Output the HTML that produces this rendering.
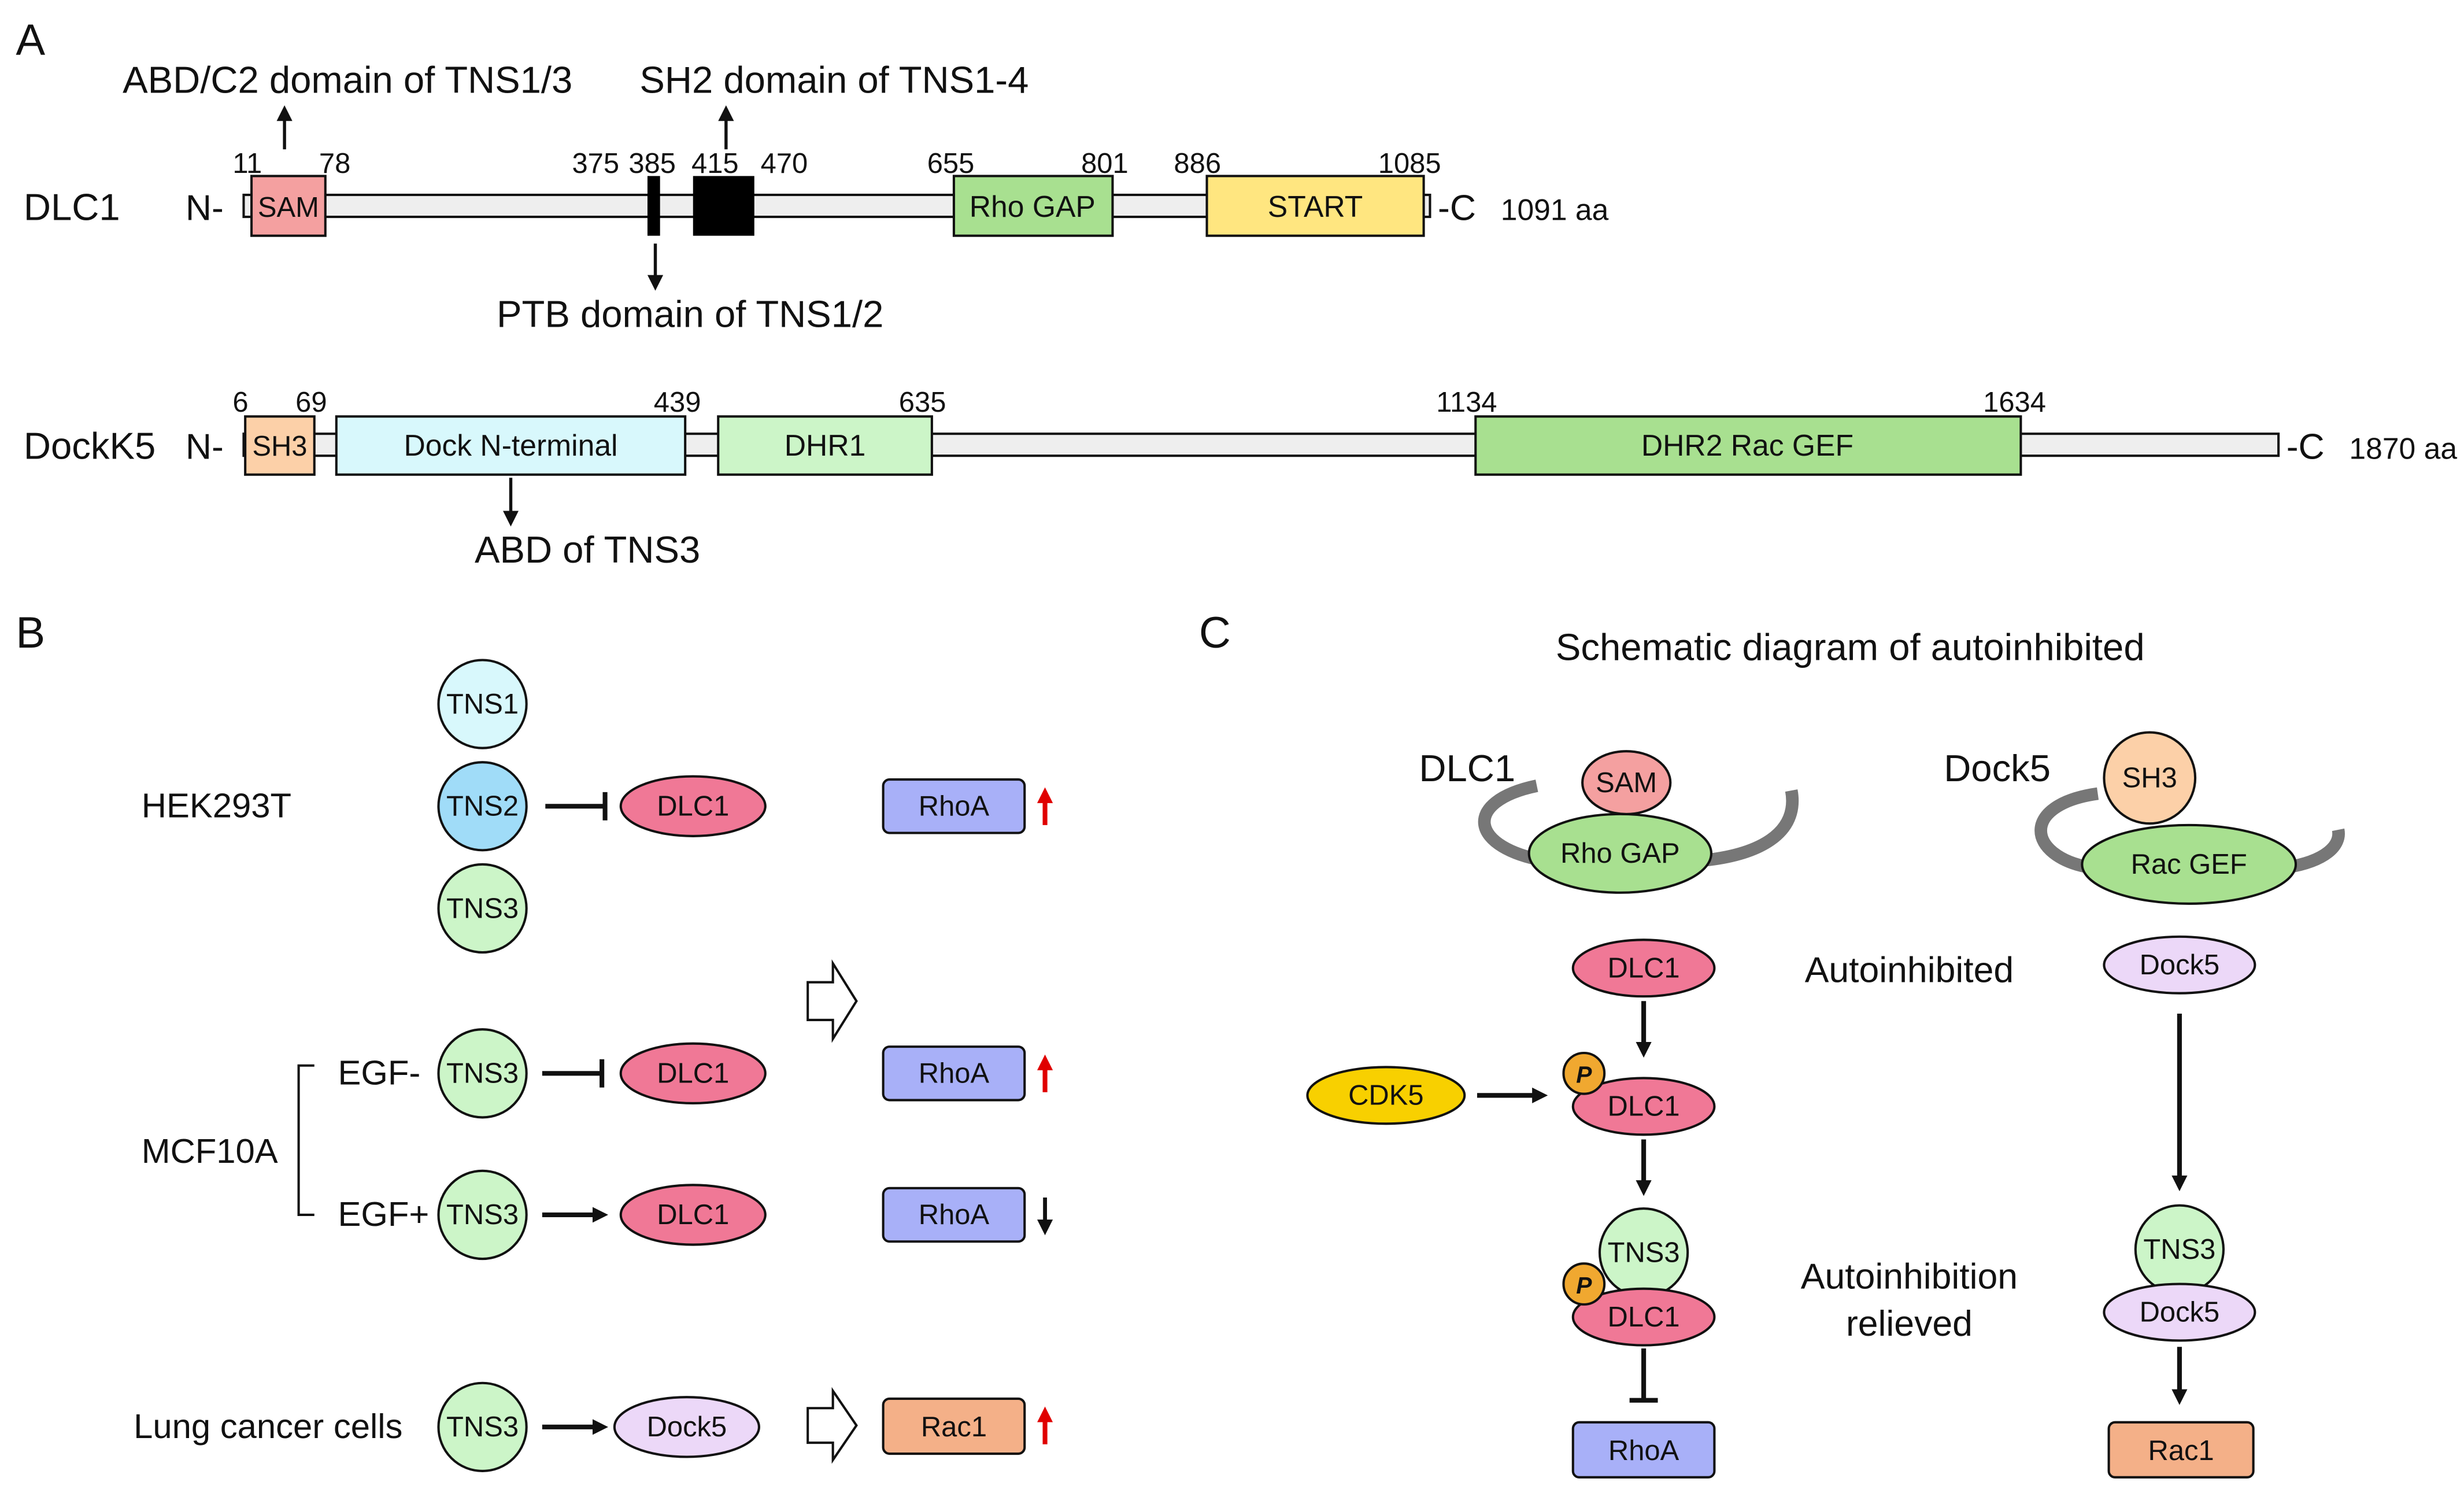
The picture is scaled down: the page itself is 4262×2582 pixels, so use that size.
<!DOCTYPE html>
<html><head><meta charset="utf-8"><style>
html,body{margin:0;padding:0;background:#fff;}
svg{display:block;}
text{font-family:"Liberation Sans",Arial,sans-serif;fill:#111;}
</style></head><body>
<svg width="4262" height="2582" viewBox="0 0 1568 950" xmlns="http://www.w3.org/2000/svg">
<defs>
<marker id="ah" markerWidth="10" markerHeight="10" refX="5" refY="5" orient="auto" markerUnits="userSpaceOnUse" viewBox="0 0 10 10">
<path d="M0,0 L10,5 L0,10 z" fill="#111"/></marker>
<marker id="ahr" markerWidth="10" markerHeight="10" refX="5" refY="5" orient="auto" markerUnits="userSpaceOnUse" viewBox="0 0 10 10">
<path d="M0,0 L10,5 L0,10 z" fill="#e00000"/></marker>
</defs>
<text x="10" y="35" font-size="28">A</text>
<text x="78" y="59" font-size="24">ABD/C2 domain of TNS1/3</text>
<text x="407" y="59" font-size="24">SH2 domain of TNS1-4</text>
<line x1="181" y1="95" x2="181" y2="72" stroke="#111" stroke-width="2" marker-end="url(#ah)"/>
<line x1="462" y1="95" x2="462" y2="72" stroke="#111" stroke-width="2" marker-end="url(#ah)"/>
<g font-size="18">
<text x="148" y="110">11</text><text x="203" y="110">78</text>
<text x="364" y="110">375</text><text x="400" y="110">385</text>
<text x="440" y="110">415</text><text x="484" y="110">470</text>
<text x="590" y="110">655</text><text x="688" y="110">801</text>
<text x="747" y="110">886</text><text x="877" y="110">1085</text>
</g>
<text x="15" y="140" font-size="24">DLC1</text>
<text x="118" y="140" font-size="23">N-</text>
<rect x="155" y="124" width="755" height="14" fill="#eee" stroke="#111" stroke-width="1.5"/>
<rect x="160" y="112" width="47" height="38" fill="#f4a0a0" stroke="#111" stroke-width="1.5"/>
<text x="183.5" y="138" font-size="18" text-anchor="middle">SAM</text>
<rect x="412" y="112" width="8" height="38" fill="#000"/>
<rect x="441" y="112" width="39" height="38" fill="#000"/>
<rect x="607" y="112" width="101" height="38" fill="#a8e090" stroke="#111" stroke-width="1.5"/>
<text x="657" y="138" font-size="19" text-anchor="middle">Rho GAP</text>
<rect x="768" y="112" width="138" height="38" fill="#ffe680" stroke="#111" stroke-width="1.5"/>
<text x="837" y="138" font-size="19" text-anchor="middle">START</text>
<text x="915" y="140" font-size="23">-C</text>
<text x="955" y="140" font-size="19">1091 aa</text>
<line x1="417" y1="155" x2="417" y2="180" stroke="#111" stroke-width="2" marker-end="url(#ah)"/>
<text x="316" y="208" font-size="24">PTB domain of TNS1/2</text>

<g font-size="18">
<text x="148" y="262">6</text><text x="188" y="262">69</text>
<text x="416" y="262">439</text><text x="572" y="262">635</text>
<text x="914" y="262">1134</text><text x="1262" y="262">1634</text>
</g>
<text x="15" y="292" font-size="24">DockK5</text>
<text x="118" y="292" font-size="23">N-</text>
<rect x="155" y="276" width="1295" height="14" fill="#eee" stroke="#111" stroke-width="1.5"/>
<rect x="156" y="265" width="44" height="37" fill="#fcd0a8" stroke="#111" stroke-width="1.5"/>
<text x="178" y="290" font-size="18" text-anchor="middle">SH3</text>
<rect x="214" y="265" width="222" height="37" fill="#d8f8fc" stroke="#111" stroke-width="1.5"/>
<text x="325" y="290" font-size="19" text-anchor="middle">Dock N-terminal</text>
<rect x="457" y="265" width="136" height="37" fill="#ccf5c8" stroke="#111" stroke-width="1.5"/>
<text x="525" y="290" font-size="19" text-anchor="middle">DHR1</text>
<rect x="939" y="265" width="347" height="37" fill="#a8e090" stroke="#111" stroke-width="1.5"/>
<text x="1112" y="290" font-size="19" text-anchor="middle">DHR2 Rac GEF</text>
<text x="1455" y="292" font-size="23">-C</text>
<text x="1495" y="292" font-size="19">1870 aa</text>
<line x1="325" y1="304" x2="325" y2="330" stroke="#111" stroke-width="2" marker-end="url(#ah)"/>
<text x="302" y="358" font-size="24">ABD of TNS3</text>

<!-- Panel B -->
<text x="10" y="412" font-size="28">B</text>
<g stroke="#111" stroke-width="1.5">
<circle cx="307" cy="448" r="28" fill="#d8f8fc"/>
<circle cx="307" cy="513" r="28" fill="#a0dcf8"/>
<circle cx="307" cy="578" r="28" fill="#ccf5c8"/>
<circle cx="307" cy="683" r="28" fill="#ccf5c8"/>
<circle cx="307" cy="773" r="28" fill="#ccf5c8"/>
<circle cx="307" cy="908" r="28" fill="#ccf5c8"/>
<ellipse cx="441" cy="513" rx="46" ry="19" fill="#f07896"/>
<ellipse cx="441" cy="683" rx="46" ry="19" fill="#f07896"/>
<ellipse cx="441" cy="773" rx="46" ry="19" fill="#f07896"/>
<ellipse cx="437" cy="908" rx="46" ry="19" fill="#ecd8f8"/>
<rect x="562" y="496" width="90" height="34" rx="4" fill="#a8b0f8"/>
<rect x="562" y="666" width="90" height="34" rx="4" fill="#a8b0f8"/>
<rect x="562" y="756" width="90" height="34" rx="4" fill="#a8b0f8"/>
<rect x="562" y="890" width="90" height="35" rx="4" fill="#f4b088"/>
<path d="M514,625 L530,625 L530,613 L545,637 L530,661 L530,649 L514,649 z" fill="#fff"/>
<path d="M514,896 L530,896 L530,885 L545,907 L530,929 L530,918 L514,918 z" fill="#fff"/>
</g>
<g font-size="18" text-anchor="middle">
<text x="307" y="454">TNS1</text><text x="307" y="519">TNS2</text><text x="307" y="584">TNS3</text>
<text x="307" y="689">TNS3</text><text x="307" y="779">TNS3</text><text x="307" y="914">TNS3</text>
<text x="441" y="519">DLC1</text><text x="441" y="689">DLC1</text><text x="441" y="779">DLC1</text>
<text x="437" y="914">Dock5</text>
<text x="607" y="519">RhoA</text><text x="607" y="689">RhoA</text><text x="607" y="779">RhoA</text>
<text x="607" y="914">Rac1</text>
</g>
<g font-size="22">
<text x="90" y="520">HEK293T</text>
<text x="90" y="740">MCF10A</text>
<text x="215" y="690">EGF-</text>
<text x="215" y="780">EGF+</text>
<text x="85" y="915">Lung cancer cells</text>
</g>
<g stroke="#111" stroke-width="3" fill="none">
<line x1="347" y1="513" x2="385" y2="513"/><line x1="385" y1="504" x2="385" y2="522"/>
<line x1="345" y1="683" x2="383" y2="683"/><line x1="383" y1="674" x2="383" y2="692"/>
<polyline points="200,678 190,678 190,773 200,773" stroke-width="1.5"/>
</g>
<line x1="345" y1="773" x2="382" y2="773" stroke="#111" stroke-width="3" marker-end="url(#ah)"/>
<line x1="345" y1="908" x2="382" y2="908" stroke="#111" stroke-width="3" marker-end="url(#ah)"/>
<line x1="665" y1="525" x2="665" y2="506" stroke="#e00000" stroke-width="3" marker-end="url(#ahr)"/>
<line x1="665" y1="695" x2="665" y2="676" stroke="#e00000" stroke-width="3" marker-end="url(#ahr)"/>
<line x1="665" y1="919" x2="665" y2="900" stroke="#e00000" stroke-width="3" marker-end="url(#ahr)"/>
<line x1="665" y1="762" x2="665" y2="781" stroke="#111" stroke-width="2.5" marker-end="url(#ah)"/>

<!-- Panel C -->
<text x="763" y="412" font-size="28">C</text>
<text x="990" y="420" font-size="24">Schematic diagram of autoinhibited</text>
<text x="903" y="497" font-size="24">DLC1</text>
<text x="1237" y="497" font-size="24">Dock5</text>
<path d="M978,500 C930,510 935,540 985,548 M1078,548 C1120,545 1145,530 1140,503" stroke="#777" stroke-width="8" fill="none"/>
<path d="M1335,505 C1285,512 1290,545 1330,552 M1455,552 C1480,548 1490,538 1488,528" stroke="#777" stroke-width="8" fill="none"/>
<g stroke="#111" stroke-width="1.5">
<ellipse cx="1031" cy="543" rx="58" ry="25" fill="#a8e090"/>
<ellipse cx="1035" cy="498" rx="28" ry="20" fill="#f4a0a0"/>
<ellipse cx="1393" cy="550" rx="68" ry="25" fill="#a8e090"/>
<circle cx="1368" cy="495" r="29" fill="#fcd0a8"/>
<ellipse cx="1046" cy="616" rx="45" ry="18" fill="#f07896"/>
<ellipse cx="882" cy="697" rx="50" ry="18" fill="#f8d000"/>
<ellipse cx="1046" cy="704" rx="45" ry="18" fill="#f07896"/>
<circle cx="1008" cy="683" r="13" fill="#f0a830"/>
<circle cx="1046" cy="797" r="28" fill="#ccf5c8"/>
<ellipse cx="1046" cy="838" rx="45" ry="18" fill="#f07896"/>
<circle cx="1008" cy="817" r="13" fill="#f0a830"/>
<rect x="1001" y="905" width="90" height="35" rx="4" fill="#a8b0f8"/>
<ellipse cx="1387" cy="614" rx="48" ry="18" fill="#ecd8f8"/>
<circle cx="1387" cy="795" r="28" fill="#ccf5c8"/>
<ellipse cx="1387" cy="835" rx="48" ry="18" fill="#ecd8f8"/>
<rect x="1342" y="905" width="92" height="35" rx="4" fill="#f4b088"/>
</g>
<g font-size="18" text-anchor="middle">
<text x="1035" y="504">SAM</text><text x="1031" y="549">Rho GAP</text>
<text x="1368" y="501">SH3</text><text x="1393" y="556">Rac GEF</text>
<text x="1046" y="622">DLC1</text><text x="882" y="703">CDK5</text>
<text x="1046" y="710">DLC1</text><text x="1046" y="803">TNS3</text><text x="1046" y="844">DLC1</text>
<text x="1046" y="929">RhoA</text>
<text x="1387" y="620">Dock5</text><text x="1387" y="801">TNS3</text><text x="1387" y="841">Dock5</text>
<text x="1388" y="929">Rac1</text>
<text x="1008" y="689" font-style="italic" font-weight="bold" font-size="15">P</text>
<text x="1008" y="823" font-style="italic" font-weight="bold" font-size="15">P</text>
</g>
<g font-size="23" text-anchor="middle">
<text x="1215" y="625">Autoinhibited</text>
<text x="1215" y="820">Autoinhibition</text>
<text x="1215" y="850">relieved</text>
</g>
<line x1="1046" y1="637" x2="1046" y2="668" stroke="#111" stroke-width="3" marker-end="url(#ah)"/>
<line x1="940" y1="697" x2="980" y2="697" stroke="#111" stroke-width="3" marker-end="url(#ah)"/>
<line x1="1046" y1="725" x2="1046" y2="756" stroke="#111" stroke-width="3" marker-end="url(#ah)"/>
<line x1="1046" y1="858" x2="1046" y2="891" stroke="#111" stroke-width="3"/>
<line x1="1037" y1="891" x2="1055" y2="891" stroke="#111" stroke-width="3"/>
<line x1="1387" y1="645" x2="1387" y2="753" stroke="#111" stroke-width="3" marker-end="url(#ah)"/>
<line x1="1387" y1="857" x2="1387" y2="889" stroke="#111" stroke-width="3" marker-end="url(#ah)"/>
</svg>
</body></html>
